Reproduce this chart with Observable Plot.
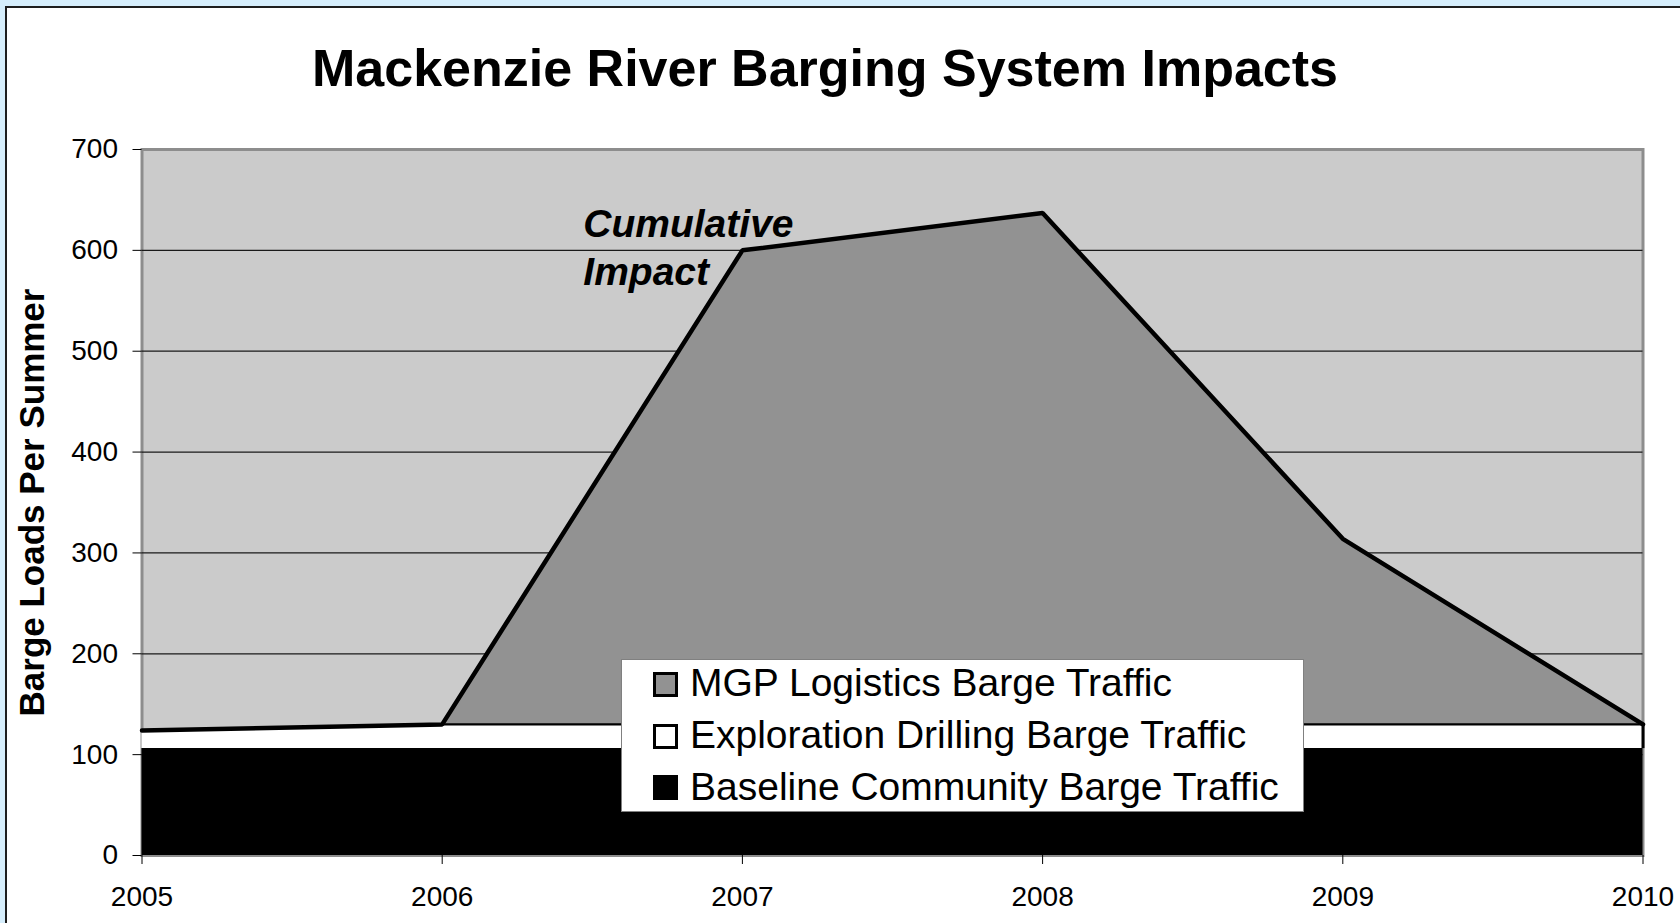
<!DOCTYPE html>
<html><head><meta charset="utf-8">
<script src="https://cdn.jsdelivr.net/npm/d3@7"></script>
<script src="https://cdn.jsdelivr.net/npm/@observablehq/plot@0.6"></script>
<style>
html,body{margin:0;padding:0;}
body{width:1680px;height:923px;background:#d6eefc;position:relative;overflow:hidden;font-family:Arial,"Liberation Sans",sans-serif;}
#panel{position:absolute;left:5px;top:6px;right:0;bottom:0;background:#fff;border-left:2px solid #1e1e1e;border-top:2px solid #1e1e1e;}
#title{position:absolute;left:0;width:1650px;top:42px;text-align:center;font-size:52px;line-height:52px;font-weight:bold;color:#000;white-space:nowrap;}
#chart{position:absolute;left:7px;top:120px;}
#legend{position:absolute;left:621px;top:659px;width:681px;height:151px;background:#fff;border:1px solid #808080;}
.sw{position:absolute;left:31px;width:25px;height:25px;box-sizing:border-box;border:3px solid #000;}
.lt{position:absolute;left:68px;font-size:39px;line-height:52px;white-space:nowrap;color:#000;}
</style></head>
<body>
<div id="panel"></div>
<div id="title">Mackenzie River Barging System Impacts</div>
<div id="chart"></div>
<div id="legend"></div>
<script>
const years = [2005, 2006, 2007, 2008, 2009, 2010];
const baselineCommunity = [106, 106, 106, 106, 106, 106];
const explorationDrilling = [18, 24, 24, 24, 24, 24];
const mgpLogistics = [0, 0, 470, 507, 184, 0];
const yTicks = [0, 100, 200, 300, 400, 500, 600, 700];
const gridValues = [100, 200, 300, 400, 500, 600];
const seriesNames = ["MGP Logistics Barge Traffic", "Exploration Drilling Barge Traffic", "Baseline Community Barge Traffic"];
const seriesColors = ["#929292", "#ffffff", "#000000"];
const yLabel = "Barge Loads Per Summer";
const annotation = [{year: 2006.47, value: 566, label: "Cumulative\nImpact"}];

const rows = years.map((year, i) => {
  const b = baselineCommunity[i];
  const e = b + explorationDrilling[i];
  const t = e + mgpLogistics[i];
  return {year, b, e, t};
});

const chart = Plot.plot({
  width: 1673,
  height: 803,
  marginLeft: 134.5,
  marginRight: 37.5,
  marginTop: 29,
  marginBottom: 68,
  style: {fontFamily: "Arial, 'Liberation Sans', sans-serif", fontSize: "28px", color: "#000", background: "transparent", overflow: "visible"},
  x: {domain: [2005, 2010]},
  y: {domain: [0, 700]},
  marks: [
    Plot.frame({fill: "#cbcbcb"}),
    Plot.frame({stroke: "#8d8d8d", strokeWidth: 3}),
    Plot.ruleY(gridValues, {stroke: "#1a1a1a", strokeWidth: 1.2}),
    Plot.areaY(rows, {x: "year", y1: 0, y2: "b", fill: seriesColors[2]}),
    Plot.areaY(rows, {x: "year", y1: "b", y2: "e", fill: seriesColors[1]}),
    Plot.areaY(rows, {x: "year", y1: "e", y2: "t", fill: seriesColors[0]}),
    Plot.lineY(rows, {x: "year", y: "e", stroke: "#000", strokeWidth: 2.2}),
    Plot.ruleX(rows.slice(-1), {x: "year", y1: "b", y2: "e", stroke: "#000", strokeWidth: 3}),
    Plot.lineY(rows, {x: "year", y: "t", stroke: "#000", strokeWidth: 4.5, strokeLinejoin: "miter"}),
    Plot.axisY(yTicks, {tickSize: 9, tickPadding: 15, label: null, fontSize: 28}),
    Plot.axisX(years, {tickSize: 9, tickPadding: 22, tickFormat: d => String(d), label: null, fontSize: 28}),
    Plot.text([yLabel], {frameAnchor: "left", textAnchor: "middle", rotate: -90, dx: -109, fontSize: 35, fontWeight: "bold", text: d => d}),
    Plot.text(annotation, {x: "year", y: "value", text: "label", textAnchor: "start", lineAnchor: "bottom", lineHeight: 1.22, fontSize: 39, fontWeight: "bold", fontStyle: "italic"})
  ]
});
document.getElementById("chart").appendChild(chart);

const legend = document.getElementById("legend");
const swTops = [12.3, 64, 115.3];
const rowTops = [-3.5, 48.8, 101.2];
seriesNames.forEach((name, i) => {
  const sw = document.createElement("div");
  sw.className = "sw";
  sw.style.top = swTops[i] + "px";
  sw.style.background = seriesColors[i];
  legend.appendChild(sw);
  const t = document.createElement("div");
  t.className = "lt";
  t.style.top = rowTops[i] + "px";
  t.textContent = name;
  legend.appendChild(t);
});
</script>
</body></html>
